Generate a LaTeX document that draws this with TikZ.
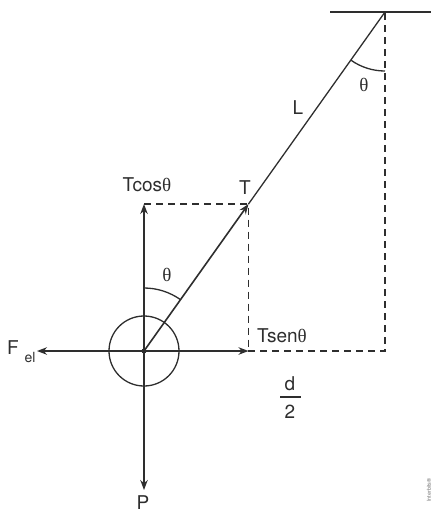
\documentclass[tikz,border=0pt]{standalone}
\usepackage{fontspec}
\setmainfont{TeX Gyre Heros}
\newfontfamily\thfont{Liberation Serif}
\usetikzlibrary{arrows.meta,calc}
\definecolor{ink}{HTML}{2E2E2E}
\begin{document}
\begin{tikzpicture}[x=1pt,y=-1pt,
  every node/.style={text=ink,font=\fontsize{19}{22}\selectfont,inner sep=0pt},
  vec/.style={draw=ink,line width=1.6pt,-{Stealth[length=10pt,width=7.5pt]}},
  thin line/.style={draw=ink,line width=1.3pt},
  dsh/.style={draw=ink,line width=1.4pt,dash pattern=on 7pt off 5pt}]
\useasboundingbox (0,0) rectangle (435,515);
% key points
\coordinate (O) at (144,351);
\coordinate (piv) at (385,12);
\coordinate (cl) at (330,12);
\coordinate (cr) at (431,12);
\coordinate (Tt) at ($(O)!0.4336!(piv)$);
\coordinate (Tc) at (O |- Tt);
\coordinate (Ts) at (Tt |- O);
\coordinate (Fe) at (37,351);
\coordinate (Pt) at (144,490);
\coordinate (Dc) at (piv |- O);
% ceiling and string
\draw[thin line] (cl) -- (cr);
\draw[thin line] (Tt) -- (piv);
% dashed construction
\draw[dsh] (Tc) -- (Tt) -- (Ts);
\draw[dsh] (Ts) -- (Dc) -- (piv);
% sphere
\draw[thin line] (O) circle (35);
\fill[ink] (O) circle (2.5);
% vectors
\draw[vec] (O) -- (Tt);
\draw[vec] (O) -- (Tc);
\draw[vec] (O) -- (Ts);
\draw[vec] (O) -- (Fe);
\draw[vec] (O) -- (Pt);
% angle arcs
\draw[thin line] ([shift={(0,-63)}]O) arc[start angle=-90,end angle=-54.6,radius=63];
\draw[thin line] ([shift={(0,59)}]piv) arc[start angle=90,end angle=125.4,radius=59];
% labels
\node (lTc) at (147,185) {Tcos{\thfont θ}};
\node (lT) at (245,188) {T};
\node (lth1) at (167,275) {\thfont θ};
\node (lth2) at (364,85) {\thfont θ};
\node (lL) at (298,108) {L};
\node[anchor=west] (lTs) at (257,336) {Tsen{\thfont θ}};
\node (lF) at (13,348) {F};
\node[font=\fontsize{14}{16}\selectfont] (lel) at (30,357) {el};
\node (lP) at (143,503) {P};
\node (ld) at (290,384) {d};
\draw[draw=ink,line width=1.3pt] (280,397) -- (301,397);
\node (l2) at (290,412) {2};
\node[rotate=90,text=ink!65,font=\fontsize{5.5}{6}\selectfont] (wm) at (429,490) {Interbits®};
\end{tikzpicture}
\end{document}
